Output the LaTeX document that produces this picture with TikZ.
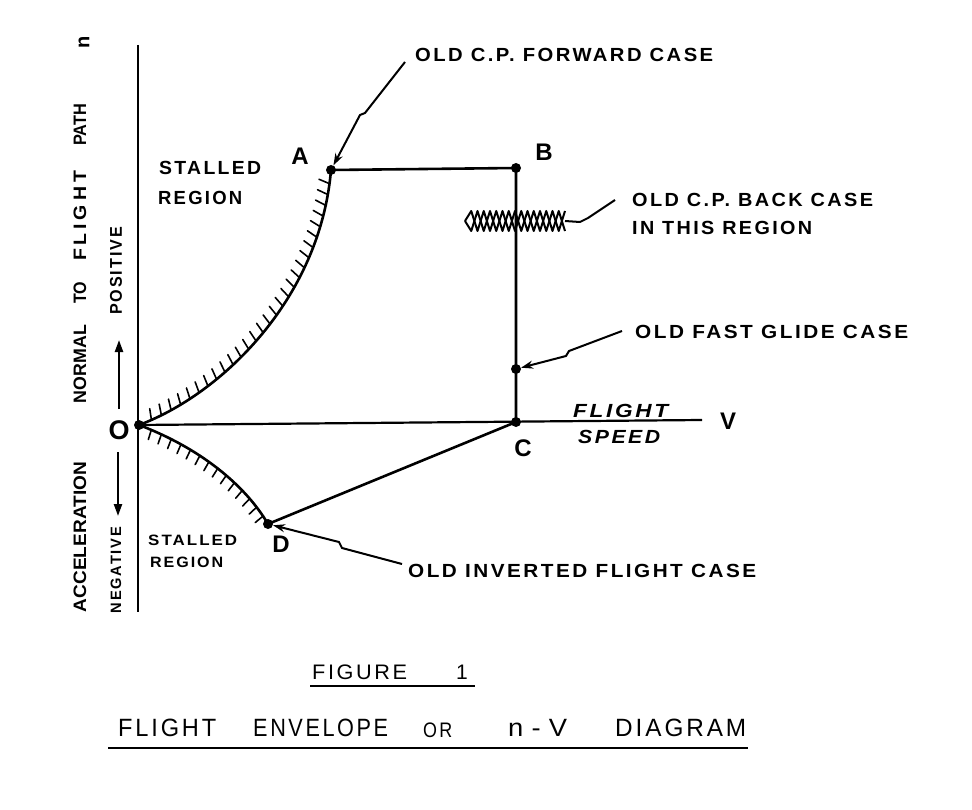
\documentclass[tikz,border=0pt]{standalone}
\usepackage{fontspec}
\setmainfont{Liberation Sans}[LetterSpace=12]
\newfontfamily\sidefont{Liberation Sans}[LetterSpace=0]
\newfontfamily\sidewide{Liberation Sans}[LetterSpace=20]
\usetikzlibrary{arrows.meta,decorations.markings}
\newsavebox\fitbox
\newlength\fitlen
\newcommand\fitw[2]{\sbox\fitbox{#2}\setlength\fitlen{\wd\fitbox}\pgfmathsetmacro\fitr{#1/\fitlen}\scalebox{\fitr}[1]{\usebox\fitbox}}
\begin{document}
\begin{tikzpicture}[x=1pt,y=-1pt,
  env/.style={line width=2.6pt, line cap=round, line join=round},
  axisl/.style={line width=2.2pt},
  lead/.style={line width=2pt, line join=round},
  dotn/.style={circle, fill, inner sep=0pt, minimum size=10pt},
  lbl/.style={inner sep=0pt, font=\fontsize{19}{22}\selectfont\bfseries},
  lblit/.style={inner sep=0pt, font=\fontsize{19}{22}\selectfont\bfseries\itshape},
  side/.style={inner sep=0pt, font=\sidefont\fontsize{18}{22}\selectfont\bfseries},
  small/.style={inner sep=0pt, font=\fontsize{15}{18}\selectfont\bfseries},
  big/.style={inner sep=0pt, font=\fontsize{24}{28}\selectfont\bfseries},
  ttl/.style={inner sep=0pt, font=\fontsize{25}{28}\selectfont},
  tip/.style={-{Stealth[length=12pt,width=8pt]}},
  stallup/.style={postaction={decorate}, decoration={markings,
     mark=between positions 0.04 and 0.97 step 11pt with {\draw[line width=1.6pt] (0pt,0pt) -- (3pt,11pt);}}},
  stalldn/.style={postaction={decorate}, decoration={markings,
     mark=between positions 0.08 and 0.95 step 11pt with {\draw[line width=1.6pt] (0pt,0pt) -- (1pt,-10pt);}}}
]
\fill[white] (0,0) rectangle (972,810);
\useasboundingbox (0,0) rectangle (972,810);

% axes
\coordinate (ytop) at (138,45);
\coordinate (ybot) at (138,612);
\coordinate (vend) at (702,420);
\draw[axisl] (ytop) -- (ybot);

% points
\node[dotn] (O) at (139,425) {};
\node[dotn] (A) at (331,170) {};
\node[dotn] (B) at (516,168) {};
\node[dotn] (C) at (516,422) {};
\node[dotn] (G) at (516,369) {};
\node[dotn] (D) at (268,524) {};

\draw[axisl] (O.center) -- (vend);

% envelope
\draw[env, stallup] (O.center) .. controls (220,395) and (320,300) .. (A.center);
\draw[env] (A.center) -- (B.center) -- (C.center);
\draw[env, stalldn] (O.center) .. controls (200,448) and (245,485) .. (D.center);
\draw[env] (D.center) -- (C.center);

% point labels
\node[big] (lA) at (300,156) {A};
\node[big] (lB) at (544,152) {B};
\node[big] (lC) at (523,448) {C};
\node[big] (lD) at (281,544) {D};
\node[big, font=\fontsize{27}{30}\selectfont\bfseries] (lO) at (119,430) {O};
\node[big] (lV) at (728,421) {V};

% stalled regions
\node[lbl, anchor=west] (st1) at (159,168) {\fitw{102}{STALLED}};
\node[lbl, anchor=west] (rg1) at (158,198) {\fitw{84}{REGION}};
\node[small, anchor=west] (st2) at (148,540) {\fitw{89}{STALLED}};
\node[small, anchor=west] (rg2) at (150,562) {\fitw{73}{REGION}};

% annotations
\node[lbl, anchor=west] (tfwd) at (415,55) {\fitw{298}{OLD C.P. FORWARD CASE}};
\node[lbl, anchor=west] (tbk1) at (632,200) {\fitw{241}{OLD C.P. BACK CASE}};
\node[lbl, anchor=west] (tbk2) at (632,228) {\fitw{180}{IN THIS REGION}};
\node[lbl, anchor=west] (tgl) at (635,332) {\fitw{273}{OLD FAST GLIDE CASE}};
\node[lbl, anchor=west] (tinv) at (408,571) {\fitw{348}{OLD INVERTED FLIGHT CASE}};
\node[lblit, anchor=west] (tfl) at (573,411) {\fitw{95}{FLIGHT}};
\node[lblit, anchor=west] (tsp) at (578,437) {\fitw{82}{SPEED}};

% leader: forward case
\coordinate (fwdS) at (405,62);
\coordinate (fwd1) at (365,113);
\coordinate (fwd2) at (360,115);
\draw[lead, tip] (fwdS) -- (fwd1) -- (fwd2) -- (A);

% leader: fast glide
\coordinate (glS) at (622,331);
\coordinate (gl1) at (569,351);
\coordinate (gl2) at (566,356);
\draw[lead, tip] (glS) -- (gl1) -- (gl2) -- (G);

% leader: inverted flight
\coordinate (invS) at (402,564);
\coordinate (inv1) at (342,548);
\coordinate (inv2) at (339,542);
\draw[lead, tip] (invS) -- (inv1) -- (inv2) -- (D);

% cross-hatched region (C.P. back)
\draw[line width=2pt, line join=round] (465,221) \foreach \i in {0,...,7} { -- ({471.25+12.5*\i},211) -- ({477.5+12.5*\i},231) };
\draw[line width=2pt, line join=round] (465,221) \foreach \i in {0,...,7} { -- ({471.25+12.5*\i},231) -- ({477.5+12.5*\i},211) };
\coordinate (hE) at (565,221);
\coordinate (bk1) at (580,222);
\coordinate (bk2) at (588,218);
\coordinate (bkS) at (615,200);
\draw[lead] (hE) -- (bk1) -- (bk2) -- (bkS);

% vertical axis labels
\node[side, rotate=90] (w1) at (80,537) {\fitw{150}{ACCELERATION}};
\node[side, rotate=90] (w2) at (80,364) {\fitw{78}{NORMAL}};
\node[side, rotate=90] (w3) at (80,293) {\fitw{22}{TO}};
\node[side, rotate=90, font=\sidewide\fontsize{18}{22}\selectfont\bfseries] (w4) at (80,216) {\fitw{90}{FLIGHT}};
\node[side, rotate=90] (w5) at (80,125) {\fitw{42}{PATH}};
\node[side, rotate=90, font=\sidefont\fontsize{20}{22}\selectfont\bfseries] (wn) at (84,42) {n};
\node[small, rotate=90] (neg) at (116,570) {\fitw{86}{NEGATIVE}};
\node[lbl, rotate=90, font=\fontsize{17}{20}\selectfont\bfseries] (pos) at (116,271) {\fitw{88}{POSITIVE}};
\coordinate (pa1) at (119,409);
\coordinate (pa2) at (119,340);
\coordinate (na1) at (118,452);
\coordinate (na2) at (118,516);
\draw[line width=2.2pt, -{Triangle[length=12pt,width=8pt]}] (pa1) -- (pa2);
\draw[line width=2.2pt, -{Triangle[length=12pt,width=8pt]}] (na1) -- (na2);

% figure caption
\node[ttl, anchor=west, font=\fontsize{21}{24}\selectfont] (fig) at (312,672) {\fitw{95}{FIGURE}};
\node[ttl, font=\fontsize{21}{24}\selectfont] (one) at (462,672) {1};
\draw[line width=1.8pt] (310,686) -- (475,686);

% title
\node[ttl, anchor=west] (t1) at (118,728) {\fitw{98}{FLIGHT}};
\node[ttl, anchor=west] (t2) at (253,728) {\fitw{135}{ENVELOPE}};
\node[ttl, anchor=west, font=\fontsize{21}{24}\selectfont] (t3) at (423,730) {\fitw{29}{OR}};
\node[ttl, anchor=west] (t4) at (508,728) {\fitw{59}{\addfontfeature{LetterSpace=30}n-V}};
\node[ttl, anchor=west] (t5) at (615,728) {\fitw{131}{DIAGRAM}};
\draw[line width=1.8pt] (108,748) -- (748,748);
\end{tikzpicture}
\end{document}
